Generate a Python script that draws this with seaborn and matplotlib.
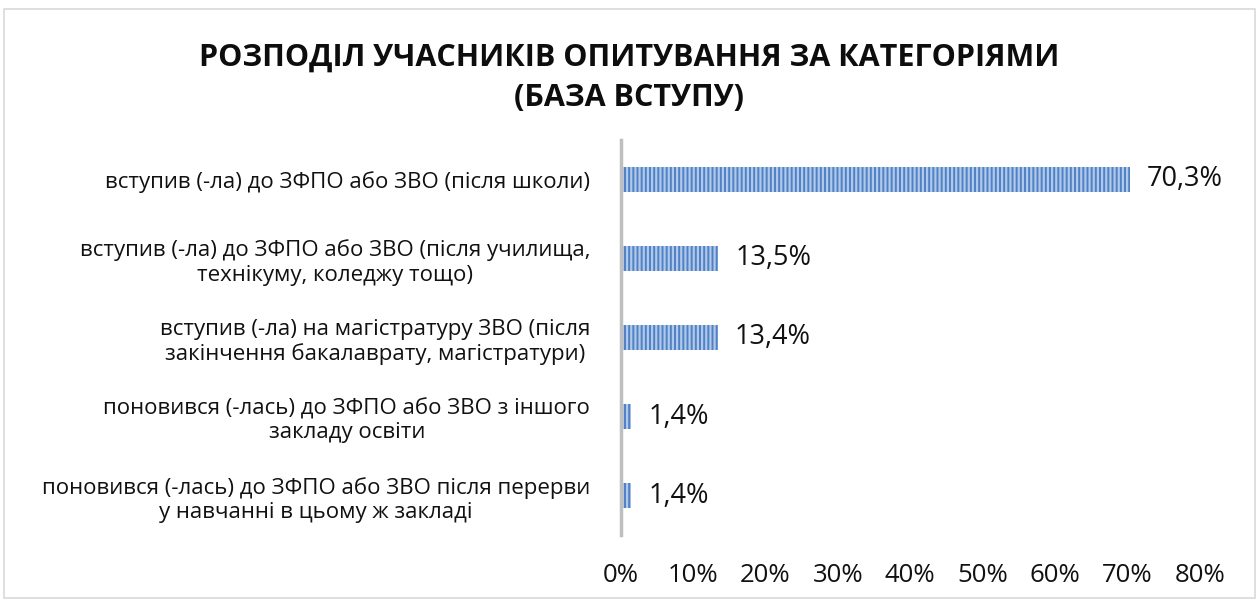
import matplotlib
matplotlib.use("Agg")
import matplotlib.pyplot as plt
import seaborn as sns
import pandas as pd
from matplotlib.patches import Rectangle
from matplotlib.ticker import PercentFormatter

# дані
categories = [
    "вступив (-ла) до ЗФПО або ЗВО (після школи)",
    "вступив (-ла) до ЗФПО або ЗВО (після училища,\nтехнікуму, коледжу тощо)",
    "вступив (-ла) на магістратуру ЗВО (після\nзакінчення бакалаврату, магістратури)",
    "поновився (-лась) до ЗФПО або ЗВО з іншого\nзакладу освіти",
    "поновився (-лась) до ЗФПО або ЗВО після перерви\nу навчанні в цьому ж закладі",
]
values = [70.3, 13.5, 13.4, 1.4, 1.4]
value_labels = ["70,3%", "13,5%", "13,4%", "1,4%", "1,4%"]
xticks = [0, 10, 20, 30, 40, 50, 60, 70, 80]

df = pd.DataFrame({"cat": categories, "val": values})

sns.set_style("white")
plt.rcParams["font.family"] = ["Open Sans", "DejaVu Sans"]
plt.rcParams["hatch.linewidth"] = 1.6

fig = plt.figure(figsize=(12.59, 6), dpi=100)
ax = fig.add_axes([0.493, 0.108, 0.46, 0.659])

sns.barplot(data=df, y="cat", x="val", orient="h", ax=ax, width=0.31,
            color="#4f81c4", saturation=1)
for bar in ax.patches:
    bar.set_hatch("||||")
    bar.set_edgecolor("#b0c8ea")
    bar.set_linewidth(0)

for bar, lab in zip(ax.patches, value_labels):
    ax.text(bar.get_width() + 2.4, bar.get_y() + bar.get_height() / 2, lab,
            va="center", ha="left", fontsize=19.5, color="#111111")

ax.set_xlim(0, 80)
ax.set_xticks(xticks)
ax.xaxis.set_major_formatter(PercentFormatter(decimals=0))
ax.tick_params(axis="x", labelsize=18.5, length=0, pad=20, labelcolor="#111111")
ax.tick_params(axis="y", labelsize=16, length=0, pad=22, labelcolor="#111111")
for lab in ax.get_yticklabels():
    lab.set_horizontalalignment("right")
    lab.set_multialignment("center")
    lab.set_linespacing(1.2)
ax.set_xlabel("")
ax.set_ylabel("")
for s in ["top", "right", "bottom"]:
    ax.spines[s].set_visible(False)
ax.spines["left"].set_color("#bfbfbf")
ax.spines["left"].set_linewidth(2.5)

fig.text(0.5, 0.87, "РОЗПОДІЛ УЧАСНИКІВ ОПИТУВАННЯ ЗА КАТЕГОРІЯМИ\n(БАЗА ВСТУПУ)",
         ha="center", va="center", fontsize=22, fontweight="bold",
         linespacing=1.45, color="#0d0d0d")

fig.patches.append(Rectangle((0.003, 0.003), 0.994, 0.982, transform=fig.transFigure,
                             fill=False, edgecolor="#d9d9d9", linewidth=1.2))

plt.savefig("out.png", dpi=100)
